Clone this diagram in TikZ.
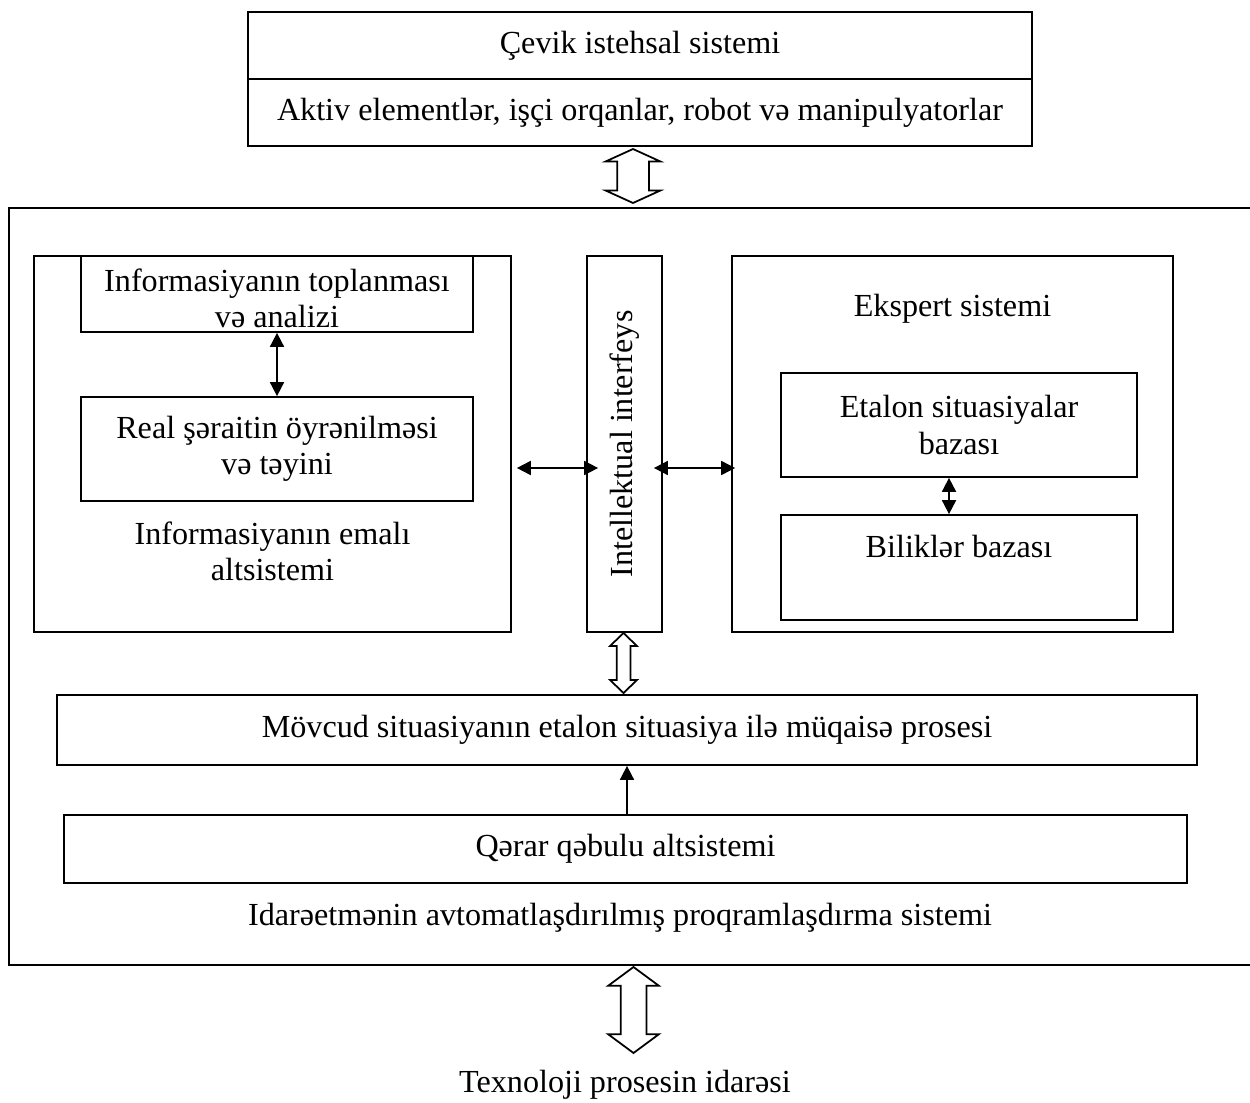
\documentclass[tikz,border=0pt]{standalone}
\usepackage{fontspec}
\setmainfont{Liberation Serif}
\usetikzlibrary{arrows.meta,shapes.arrows}
\tikzset{
    box/.style={draw,line width=1pt,inner sep=0pt,align=center},
    hollow/.style={double arrow,draw,line width=1pt,rotate=90,inner xsep=0pt},
    >={Triangle[length=2.8mm,width=2.8mm]}
}
\begin{document}
\begin{tikzpicture}[x=0.02cm,y=-0.02cm,font=\fontsize{18.3}{20.5}\selectfont]
    \clip(0,0)rectangle(1250,1102);
    % top system
    \node[box,minimum width=15.68cm,minimum height=1.34cm](cevik)at(640,45.5){Çevik istehsal sistemi};
    \node[box,minimum width=15.68cm,minimum height=1.34cm](aktiv)at(640,112.5){Aktiv elementlər, işçi orqanlar, robot və manipulyatorlar};
    \node[hollow,minimum height=1.08cm,inner ysep=0.3cm,double arrow head extend=0.23cm,double arrow tip angle=131](a1)at(633,176){};
    % big frame
    \node[box,minimum width=25.22cm,minimum height=15.14cm](ipss)at(639.5,586.5){};
    \node(ipsstext)at(620,918){Idarəetmənin avtomatlaşdırılmış proqramlaşdırma sistemi};
    % left block
    \node[box,minimum width=9.54cm,minimum height=7.52cm,
        label={[align=center,anchor=center,yshift=1.64cm]south:Informasiyanın emalı\\altsistemi}](emal)at(272.5,444){};
    \node[box,minimum width=7.84cm,minimum height=1.52cm,
        label={[align=center,anchor=center,yshift=-0.08cm]center:Informasiyanın toplanması\\və analizi}](info)at(277,294){};
    \node[box,minimum width=7.84cm,minimum height=2.08cm](real)at(277,449){Real şəraitin öyrənilməsi\\və təyini};
    \draw[<->,line width=1pt](info.south)--(real.north);
    % interface
    \node[box,minimum width=1.5cm,minimum height=7.52cm,
        label={[rotate=90]center:Intellektual interfeys}](intf)at(624.5,444){};
    % right block
    \node[box,minimum width=8.82cm,minimum height=7.52cm,
        label={[anchor=center,yshift=-1.08cm]north:Ekspert sistemi}](ekspert)at(952.5,444){};
    \node[box,minimum width=7.12cm,minimum height=2.08cm](etalon)at(959,425){Etalon situasiyalar\\bazası};
    \node[box,minimum width=7.12cm,minimum height=2.1cm,
        label={[anchor=center,yshift=-0.64cm]north:Biliklər bazası}](bilik)at(959,567.5){};
    \draw[<->,line width=1pt]([xshift=-0.2cm]etalon.south)--([xshift=-0.2cm]bilik.north);
    \draw[<->,line width=1pt]([shift={(0.1cm,-0.48cm)}]emal.east)--([shift={(0.24cm,-0.48cm)}]intf.west);
    \draw[<->,line width=1pt]([shift={(-0.18cm,-0.48cm)}]intf.east)--([shift={(0.08cm,-0.48cm)}]ekspert.west);
    \node[hollow,minimum height=1.2cm,inner ysep=0.12cm,double arrow head extend=0.13cm,double arrow tip angle=92](a2)at(623.5,663){};
    % comparison and decision
    \node[box,minimum width=22.8cm,minimum height=1.4cm](movcud)at(627,730){Mövcud situasiyanın etalon situasiya ilə müqaisə prosesi};
    \node[box,minimum width=22.46cm,minimum height=1.36cm](qerar)at(625.5,849){Qərar qəbulu altsistemi};
    \draw[->,line width=1pt]([xshift=0.03cm]qerar.north)--([xshift=0.03cm]qerar.north|-movcud.south);
    % output
    \node[hollow,minimum height=1.72cm,inner ysep=0.24cm,double arrow head extend=0.25cm,double arrow tip angle=107](a3)at(633.5,1010){};
    \node(texno)at(625,1085){Texnoloji prosesin idarəsi};
\end{tikzpicture}
\end{document}
